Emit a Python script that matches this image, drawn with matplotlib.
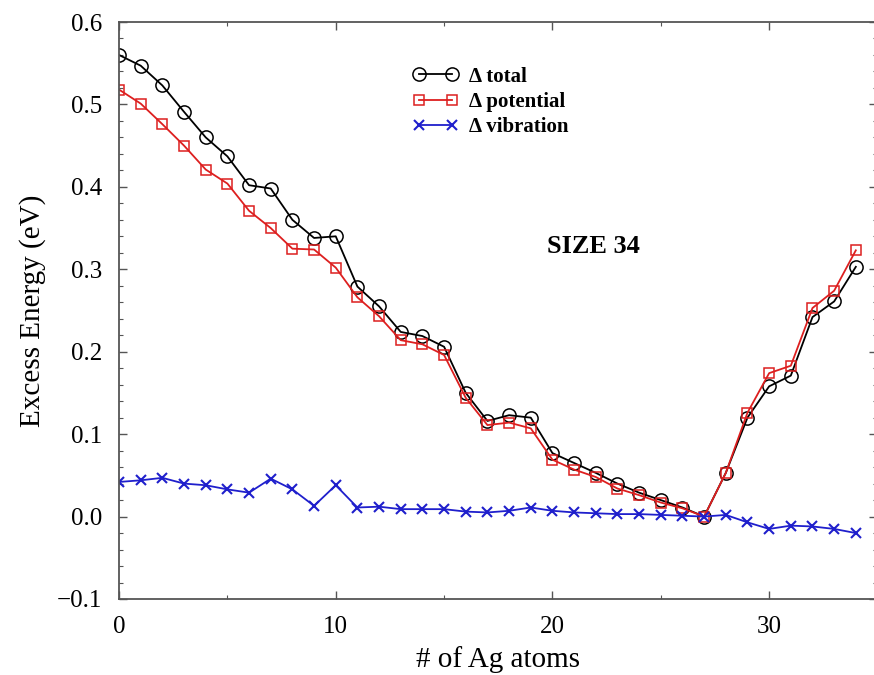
import matplotlib
matplotlib.use('Agg')
import matplotlib.pyplot as plt
from matplotlib.ticker import MultipleLocator

n_ag = list(range(35))
# excess energies (eV)
d_total = [0.560, 0.547, 0.523, 0.491, 0.460, 0.437, 0.402, 0.398, 0.360, 0.338,
           0.340, 0.279, 0.255, 0.224, 0.219, 0.206, 0.150, 0.116, 0.123, 0.120,
           0.077, 0.065, 0.053, 0.040, 0.029, 0.020, 0.011, 0.000, 0.053, 0.120,
           0.158, 0.171, 0.242, 0.261, 0.303]
d_potential = [0.518, 0.501, 0.476, 0.450, 0.421, 0.404, 0.371, 0.350, 0.325, 0.324,
               0.302, 0.266, 0.243, 0.214, 0.209, 0.196, 0.144, 0.111, 0.114, 0.107,
               0.069, 0.057, 0.048, 0.034, 0.026, 0.017, 0.010, 0.000, 0.053, 0.126,
               0.174, 0.183, 0.253, 0.274, 0.323]
d_vibration = [0.042, 0.044, 0.047, 0.040, 0.038, 0.033, 0.029, 0.046, 0.033, 0.013,
               0.038, 0.011, 0.012, 0.009, 0.009, 0.009, 0.006, 0.005, 0.007, 0.011,
               0.007, 0.005, 0.004, 0.003, 0.003, 0.002, 0.001, 0.000, 0.002, -0.007,
               -0.015, -0.011, -0.012, -0.015, -0.020]

plt.rcParams['font.family'] = ['Liberation Serif', 'DejaVu Serif']

fig = plt.figure(figsize=(8.74, 6.75), dpi=100)
ax = fig.add_axes([0.1362, 0.1126, 0.8678, 0.8548])

ax.plot(n_ag, d_total, '-o', color='black', lw=1.3, ms=9.5, mfc='none', mew=1.1,
        label='Δ total')
ax.plot(n_ag, d_potential, '-s', color='#dd1f1f', lw=1.3, ms=7, mfc='none', mew=1.1,
        label='Δ potential')
ax.plot(n_ag, d_vibration, '-x', color='#1f1fcc', lw=1.3, ms=7.5, mew=1.5,
        label='Δ vibration')

ax.set_xlim(0, 35)
ax.set_ylim(-0.1, 0.6)
ax.xaxis.set_major_locator(MultipleLocator(10))
ax.xaxis.set_minor_locator(MultipleLocator(5))
ax.yaxis.set_major_locator(MultipleLocator(0.1))
ax.yaxis.set_minor_locator(MultipleLocator(0.02))
ax.yaxis.set_major_formatter(plt.FuncFormatter(lambda v, p: f'{v:.1f}'.replace('-', '\u2212')))
ax.tick_params(which='both', direction='in', top=True, right=True, color='#555555')
ax.tick_params(which='major', length=6, width=1, labelsize=18, pad=12)
ax.tick_params(which='minor', length=3, width=0.8)
for s in ax.spines.values():
    s.set_color('#555555')
    s.set_linewidth(1.3)
ax.spines['right'].set_visible(False)

ax.set_xlabel('# of Ag atoms', fontsize=21, labelpad=6)
ax.set_ylabel('Excess Energy (eV)', fontsize=21, labelpad=8)

ax.text(21.9, 0.328, 'SIZE 34', fontsize=19, fontweight='bold', ha='center', va='center')

ax.legend(loc='upper left', bbox_to_anchor=(0.362, 0.955), frameon=False, numpoints=2,
          handlelength=2.2, handletextpad=0.5, labelspacing=0.25,
          prop={'size': 15, 'weight': 'bold'})

fig.savefig('out.png', dpi=100)
